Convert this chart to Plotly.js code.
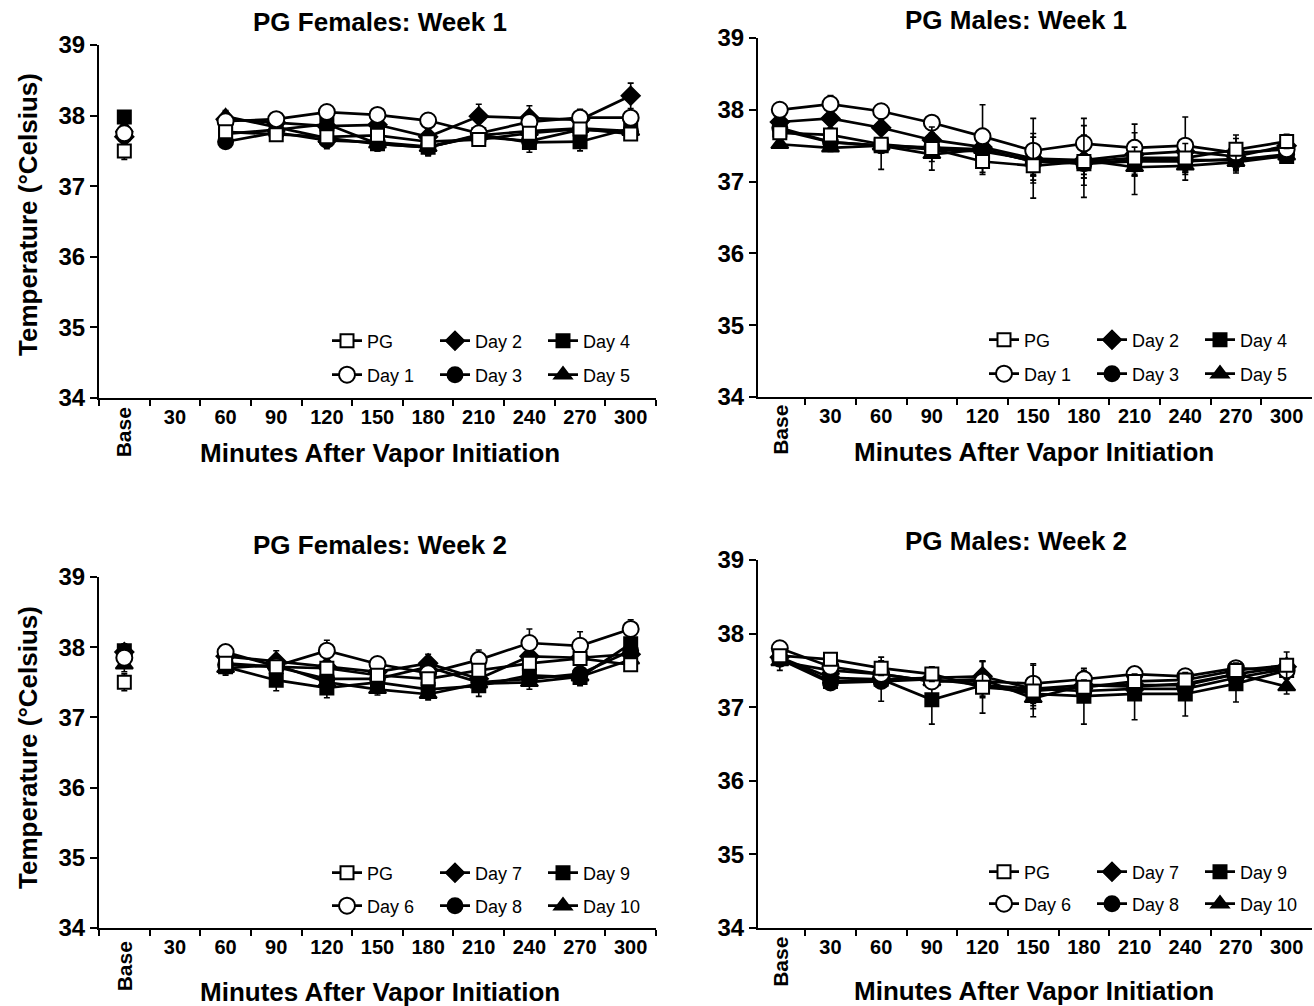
<!DOCTYPE html>
<html>
<head>
<meta charset="utf-8">
<script src="https://cdn.plot.ly/plotly-3.0.1.min.js"></script>
<style>html,body{margin:0;padding:0;background:#fff;}#chart{width:1314px;height:1006px;}</style>
</head>
<body>
<div id="chart"></div>
<script>
// ---------- data ----------
const categories = ['Base','30','60','90','120','150','180','210','240','270','300'];
const tickLabels = ['', '30','60','90','120','150','180','210','240','270','300'];
const yTicks = [34, 35, 36, 37, 38, 39];

// PG Females: Week 1
const femW1_PG    = [37.50, null, 37.77, 37.73, 37.70, 37.72, 37.63, 37.66, 37.75, 37.81, 37.74];
const femW1_PG_e  = [0.12, null, 0.08, 0.08, 0.08, 0.07, 0.08, 0.08, 0.08, 0.08, 0.08];
const femW1_D1    = [37.75, null, 37.92, 37.95, 38.05, 38.01, 37.93, 37.75, 37.91, 37.97, 37.97];
const femW1_D1_e  = [0.08, null, 0.08, 0.10, 0.07, 0.08, 0.10, 0.07, 0.08, 0.12, 0.07];
const femW1_D2    = [37.70, null, 37.95, 37.90, 37.85, 37.87, 37.70, 37.99, 37.97, 37.94, 38.28];
const femW1_D2_e  = [0.08, null, 0.08, 0.12, 0.08, 0.08, 0.10, 0.17, 0.17, 0.10, 0.18];
const femW1_D3    = [37.72, null, 37.63, 37.76, 37.65, 37.62, 37.56, 37.70, 37.64, 37.80, 37.77];
const femW1_D3_e  = [0.07, null, 0.07, 0.08, 0.12, 0.10, 0.12, 0.08, 0.10, 0.08, 0.10];
const femW1_D4    = [37.98, null, 37.74, 37.80, 37.88, 37.60, 37.55, 37.73, 37.62, 37.63, 37.82];
const femW1_D4_e  = [0.07, null, 0.08, 0.08, 0.08, 0.10, 0.12, 0.08, 0.14, 0.13, 0.08];
const femW1_D5    = [37.82, null, 37.99, 37.83, 37.68, 37.60, 37.55, 37.72, 37.78, 37.82, 37.78];
const femW1_D5_e  = [0.07, null, 0.08, 0.08, 0.10, 0.10, 0.10, 0.08, 0.08, 0.08, 0.08];

// PG Males: Week 1
const malW1_PG    = [37.68, 37.65, 37.52, 37.46, 37.28, 37.22, 37.28, 37.33, 37.33, 37.45, 37.56];
const malW1_PG_e  = [0.08, 0.10, 0.35, 0.30, 0.15, 0.45, 0.50, 0.15, 0.20, 0.15, 0.10];
const malW1_D1    = [38.00, 38.08, 37.98, 37.82, 37.63, 37.43, 37.53, 37.47, 37.50, 37.40, 37.45];
const malW1_D1_e  = [0.08, 0.12, 0.08, 0.10, 0.44, 0.45, 0.35, 0.33, 0.40, 0.25, 0.12];
const malW1_D2    = [37.83, 37.88, 37.75, 37.58, 37.48, 37.32, 37.30, 37.38, 37.42, 37.35, 37.50];
const malW1_D2_e  = [0.05, 0.05, 0.08, 0.10, 0.15, 0.30, 0.35, 0.30, 0.15, 0.12, 0.10];
const malW1_D3    = [37.75, 37.55, 37.50, 37.48, 37.45, 37.28, 37.25, 37.30, 37.30, 37.30, 37.38];
const malW1_D3_e  = [0.05, 0.05, 0.08, 0.10, 0.15, 0.20, 0.20, 0.20, 0.15, 0.12, 0.08];
const malW1_D4    = [37.72, 37.55, 37.50, 37.45, 37.42, 37.30, 37.25, 37.28, 37.28, 37.32, 37.35];
const malW1_D4_e  = [0.10, 0.08, 0.10, 0.12, 0.32, 0.20, 0.20, 0.20, 0.15, 0.15, 0.08];
const malW1_D5    = [37.52, 37.47, 37.50, 37.38, 37.45, 37.28, 37.30, 37.20, 37.22, 37.27, 37.36];
const malW1_D5_e  = [0.05, 0.05, 0.08, 0.10, 0.10, 0.20, 0.20, 0.38, 0.20, 0.15, 0.10];

// PG Females: Week 2
const femW2_PG    = [37.50, null, 37.77, 37.72, 37.70, 37.60, 37.55, 37.67, 37.77, 37.84, 37.75];
const femW2_PG_e  = [0.12, null, 0.08, 0.06, 0.07, 0.06, 0.06, 0.06, 0.06, 0.06, 0.07];
const femW2_D6    = [37.85, null, 37.93, 37.73, 37.95, 37.76, 37.63, 37.82, 38.06, 38.02, 38.26];
const femW2_D6_e  = [0.08, null, 0.10, 0.08, 0.15, 0.10, 0.10, 0.14, 0.20, 0.20, 0.13];
const femW2_D7    = [37.93, null, 37.87, 37.80, 37.72, 37.65, 37.77, 37.55, 37.87, 37.85, 37.90];
const femW2_D7_e  = [0.10, null, 0.12, 0.15, 0.10, 0.10, 0.13, 0.10, 0.10, 0.10, 0.10];
const femW2_D8    = [37.90, null, 37.75, 37.72, 37.55, 37.55, 37.72, 37.50, 37.55, 37.62, 37.95];
const femW2_D8_e  = [0.10, null, 0.10, 0.10, 0.10, 0.10, 0.10, 0.10, 0.10, 0.10, 0.10];
const femW2_D9    = [37.95, null, 37.72, 37.53, 37.42, 37.50, 37.40, 37.45, 37.60, 37.57, 38.05];
const femW2_D9_e  = [0.10, null, 0.10, 0.15, 0.14, 0.10, 0.10, 0.15, 0.15, 0.12, 0.10];
const femW2_D10   = [37.75, null, 37.70, 37.75, 37.50, 37.40, 37.33, 37.48, 37.50, 37.58, 37.82];
const femW2_D10_e = [0.10, null, 0.10, 0.10, 0.10, 0.08, 0.08, 0.10, 0.10, 0.10, 0.10];

// PG Males: Week 2
const malW2_PG    = [37.70, 37.65, 37.53, 37.45, 37.27, 37.22, 37.27, 37.35, 37.37, 37.50, 37.57];
const malW2_PG_e  = [0.08, 0.05, 0.10, 0.10, 0.35, 0.35, 0.10, 0.10, 0.10, 0.10, 0.18];
const malW2_D6    = [37.80, 37.55, 37.45, 37.35, 37.35, 37.32, 37.38, 37.45, 37.42, 37.53, 37.50];
const malW2_D6_e  = [0.05, 0.05, 0.08, 0.08, 0.10, 0.27, 0.12, 0.08, 0.08, 0.08, 0.08];
const malW2_D7    = [37.68, 37.40, 37.38, 37.40, 37.42, 37.25, 37.30, 37.30, 37.30, 37.45, 37.55];
const malW2_D7_e  = [0.05, 0.05, 0.08, 0.08, 0.20, 0.15, 0.12, 0.10, 0.10, 0.08, 0.08];
const malW2_D8    = [37.65, 37.33, 37.35, 37.38, 37.30, 37.25, 37.22, 37.25, 37.25, 37.40, 37.52];
const malW2_D8_e  = [0.05, 0.05, 0.08, 0.08, 0.10, 0.10, 0.10, 0.10, 0.10, 0.08, 0.08];
const malW2_D9    = [37.68, 37.35, 37.38, 37.10, 37.30, 37.18, 37.15, 37.18, 37.18, 37.32, 37.50];
const malW2_D9_e  = [0.05, 0.05, 0.30, 0.33, 0.15, 0.20, 0.38, 0.35, 0.30, 0.25, 0.10];
const malW2_D10   = [37.62, 37.50, 37.45, 37.35, 37.38, 37.12, 37.30, 37.28, 37.32, 37.45, 37.28];
const malW2_D10_e = [0.12, 0.08, 0.08, 0.08, 0.25, 0.10, 0.10, 0.10, 0.10, 0.10, 0.10];

// ---------- helpers ----------
const W = 1314, H = 1006;
const px = v => v / W;
const py = v => 1 - v / H;
const FONT = 'Liberation Sans, Arial, sans-serif';

const styles = {
  PG:  {symbol: 'square',      size: 13, color: '#ffffff'},
  O:   {symbol: 'circle',      size: 16, color: '#ffffff'},
  Dia: {symbol: 'diamond',     size: 14, color: '#000000'},
  Cir: {symbol: 'circle',      size: 15, color: '#000000'},
  Sq:  {symbol: 'square',      size: 13, color: '#000000'},
  Tri: {symbol: 'triangle-up', size: 15, color: '#000000'}
};

function mk(name, y, e, st, axN, legendId, rank) {
  const s = styles[st];
  return {
    type: 'scatter', mode: 'lines+markers', name: name,
    x: categories, y: y,
    xaxis: 'x' + axN, yaxis: 'y' + axN,
    connectgaps: false,
    line: {color: '#000', width: 2.7},
    marker: {symbol: s.symbol, size: s.size, color: s.color, line: {color: '#000', width: 2}},
    error_y: {type: 'data', array: e, visible: true, color: '#000', thickness: 1.6, width: 3},
    legend: legendId, legendrank: rank,
    hoverinfo: 'x+y+name'
  };
}

function panel(axN, names, ser, lgA, lgB) {
  return [
    mk(names[5], ser[5][0], ser[5][1], 'Tri', axN, lgB, 3),
    mk(names[4], ser[4][0], ser[4][1], 'Sq',  axN, lgA, 3),
    mk(names[3], ser[3][0], ser[3][1], 'Cir', axN, lgB, 2),
    mk(names[2], ser[2][0], ser[2][1], 'Dia', axN, lgA, 2),
    mk(names[1], ser[1][0], ser[1][1], 'O',   axN, lgB, 1),
    mk(names[0], ser[0][0], ser[0][1], 'PG',  axN, lgA, 1)
  ];
}

const data = [].concat(
  panel('', ['PG','Day 1','Day 2','Day 3','Day 4','Day 5'],
    [[femW1_PG,femW1_PG_e],[femW1_D1,femW1_D1_e],[femW1_D2,femW1_D2_e],[femW1_D3,femW1_D3_e],[femW1_D4,femW1_D4_e],[femW1_D5,femW1_D5_e]],
    'legend','legend2'),
  panel('2', ['PG','Day 1','Day 2','Day 3','Day 4','Day 5'],
    [[malW1_PG,malW1_PG_e],[malW1_D1,malW1_D1_e],[malW1_D2,malW1_D2_e],[malW1_D3,malW1_D3_e],[malW1_D4,malW1_D4_e],[malW1_D5,malW1_D5_e]],
    'legend3','legend4'),
  panel('3', ['PG','Day 6','Day 7','Day 8','Day 9','Day 10'],
    [[femW2_PG,femW2_PG_e],[femW2_D6,femW2_D6_e],[femW2_D7,femW2_D7_e],[femW2_D8,femW2_D8_e],[femW2_D9,femW2_D9_e],[femW2_D10,femW2_D10_e]],
    'legend5','legend6'),
  panel('4', ['PG','Day 6','Day 7','Day 8','Day 9','Day 10'],
    [[malW2_PG,malW2_PG_e],[malW2_D6,malW2_D6_e],[malW2_D7,malW2_D7_e],[malW2_D8,malW2_D8_e],[malW2_D9,malW2_D9_e],[malW2_D10,malW2_D10_e]],
    'legend7','legend8')
);

function xax(x0, x1, anchor, r0) {
  return {
    domain: [px(x0), px(x1)], anchor: anchor,
    type: 'category', categoryorder: 'array', categoryarray: categories,
    range: [r0, 10.5],
    tickmode: 'array', tickvals: categories, ticktext: tickLabels,
    tickson: 'boundaries',
    ticks: 'outside', ticklen: 6, tickwidth: 2, tickcolor: '#000',
    showline: true, linewidth: 2, linecolor: '#000',
    showgrid: false, zeroline: false,
    tickfont: {family: FONT, size: 20, color: '#000', weight: 'bold'},
    fixedrange: true
  };
}
function yax(top, bottom, anchor) {
  return {
    domain: [py(bottom), py(top)], anchor: anchor,
    range: [34, 39], tickmode: 'array', tickvals: yTicks,
    ticks: 'outside', ticklen: 7, tickwidth: 2, tickcolor: '#000',
    showline: true, linewidth: 2, linecolor: '#000',
    showgrid: false, zeroline: false,
    tickfont: {family: FONT, size: 24, color: '#000', weight: 'bold'},
    fixedrange: true
  };
}

function lg(xMarker, yRow) {
  return {
    orientation: 'h', x: px(xMarker - 20), xanchor: 'left',
    y: py(yRow), yanchor: 'middle',
    entrywidth: 63, entrywidthmode: 'pixels',
    bgcolor: 'rgba(0,0,0,0)', borderwidth: 0,
    font: {family: FONT, size: 18, color: '#000'},
    itemclick: false, itemdoubleclick: false
  };
}

function ann(text, x, y, size, extra) {
  return Object.assign({
    text: text, xref: 'paper', yref: 'paper', x: px(x), y: py(y),
    xanchor: 'center', yanchor: 'middle', showarrow: false,
    font: {family: FONT, size: size, color: '#000', weight: 'bold'}
  }, extra || {});
}

function baseAnn(xref, y) {
  return {text: 'Base', xref: xref, yref: 'paper', x: 0, y: py(y), textangle: -90, showarrow: false,
    xanchor: 'center', yanchor: 'middle', font: {family: FONT, size: 21, color: '#000', weight: 'bold'}};
}

const layout = {
  width: W, height: H,
  margin: {l: 0, r: 0, t: 0, b: 0},
  paper_bgcolor: '#fff', plot_bgcolor: '#fff',
  showlegend: true,
  xaxis:  xax(99, 656, 'y', -0.5),
  yaxis:  yax(45, 398, 'x'),
  xaxis2: xax(758, 1312, 'y2', -0.43),
  yaxis2: yax(38, 397, 'x2'),
  xaxis3: xax(99, 656, 'y3', -0.5),
  yaxis3: yax(577, 928, 'x3'),
  xaxis4: xax(758, 1312, 'y4', -0.43),
  yaxis4: yax(560, 928, 'x4'),
  legend:  lg(347, 341), legend2: lg(347, 375),
  legend3: lg(1004, 340), legend4: lg(1004, 374),
  legend5: lg(347, 873), legend6: lg(347, 906),
  legend7: lg(1004, 872), legend8: lg(1004, 904),
  annotations: [
    ann('PG Females: Week 1', 380, 22, 26),
    ann('PG Males: Week 1', 1016, 20, 26),
    ann('PG Females: Week 2', 380, 545, 26),
    ann('PG Males: Week 2', 1016, 541, 26),
    ann('Temperature (°Celsius)', 28, 215, 26, {textangle: -90}),
    ann('Temperature (°Celsius)', 28, 748, 26, {textangle: -90}),
    ann('Minutes After Vapor Initiation', 380, 453, 26),
    ann('Minutes After Vapor Initiation', 1034, 452, 26),
    ann('Minutes After Vapor Initiation', 380, 992, 26),
    ann('Minutes After Vapor Initiation', 1034, 991, 26),
    baseAnn('x', 432), baseAnn('x2', 430), baseAnn('x3', 966), baseAnn('x4', 962)
  ]
};

Plotly.newPlot('chart', data, layout, {displayModeBar: false, staticPlot: false, responsive: false});
</script>
</body>
</html>
